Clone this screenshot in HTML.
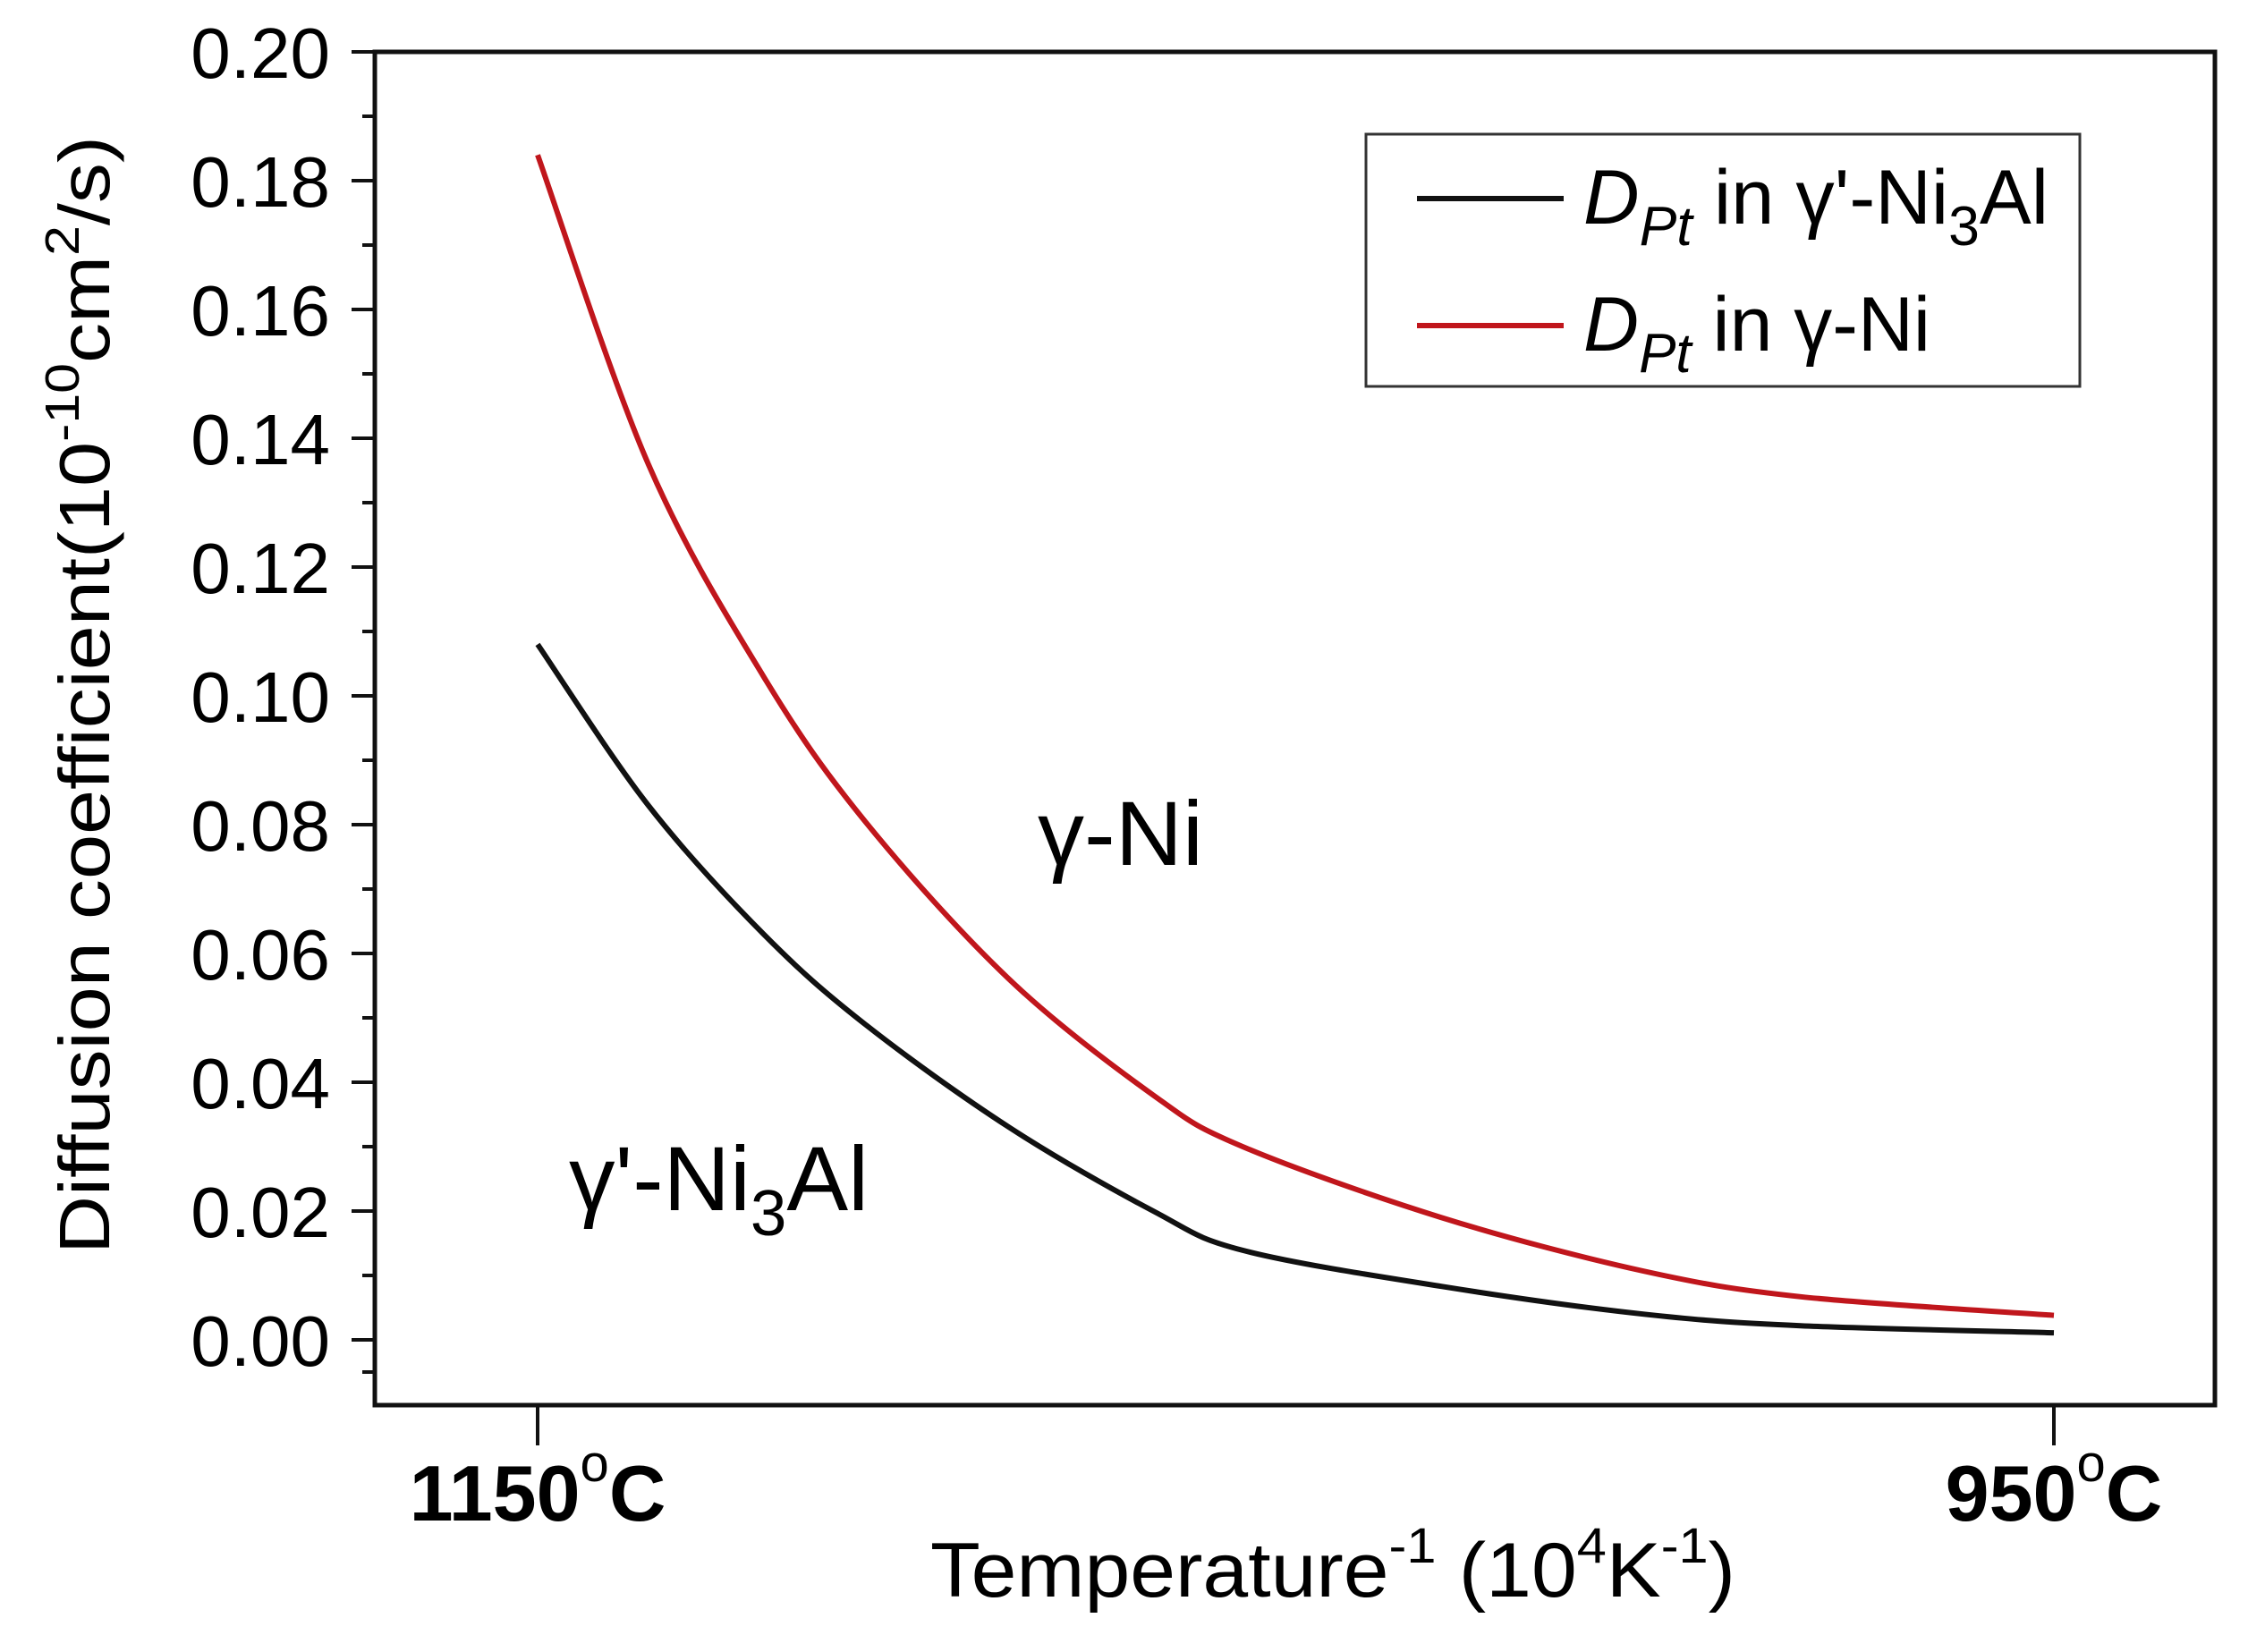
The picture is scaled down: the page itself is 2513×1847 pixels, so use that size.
<!DOCTYPE html>
<html><head><meta charset="utf-8"><style>
html,body{margin:0;padding:0;background:#fff;}
svg{display:block;font-family:"Liberation Sans",Arial,sans-serif;}
</style></head><body>
<svg id="chart" width="2513" height="1847" viewBox="0 0 2513 1847" xmlns="http://www.w3.org/2000/svg">
<g id="axes"></g>
<g id="series"></g>
<g>
<rect x="1527" y="150" width="798" height="282" fill="#fff" stroke="#333" stroke-width="3"/>
<line x1="1584" y1="222" x2="1748" y2="222" stroke="#111" stroke-width="6"/>
<text x="1770" y="250" font-size="86" textLength="520" lengthAdjust="spacingAndGlyphs"><tspan font-style="italic">D</tspan><tspan font-style="italic" font-size="62" dy="24">Pt</tspan><tspan dy="-24"> in γ'-Ni</tspan><tspan font-size="62" dy="24">3</tspan><tspan dy="-24">Al</tspan></text>
<line x1="1584" y1="364" x2="1748" y2="364" stroke="#c0161c" stroke-width="6"/>
<text x="1770" y="392" font-size="86" textLength="388" lengthAdjust="spacingAndGlyphs"><tspan font-style="italic">D</tspan><tspan font-style="italic" font-size="62" dy="24">Pt</tspan><tspan dy="-24"> in γ-Ni</tspan></text>
</g>
<text x="1160" y="967" font-size="102" textLength="185" lengthAdjust="spacingAndGlyphs">γ-Ni</text>
<text x="636" y="1353" font-size="102" textLength="335" lengthAdjust="spacingAndGlyphs">γ'-Ni<tspan font-size="72" dy="28">3</tspan><tspan dy="-28">Al</tspan></text>
<text transform="translate(122,777) rotate(-90)" text-anchor="middle" font-size="80" textLength="1250" lengthAdjust="spacingAndGlyphs">Diffusion coefficient(10<tspan font-size="54" dy="-34">-10</tspan><tspan dy="34">cm</tspan><tspan font-size="54" dy="-34">2</tspan><tspan dy="34">/s)</tspan></text>
<text x="1490" y="1785" text-anchor="middle" font-size="86" textLength="900" lengthAdjust="spacingAndGlyphs">Temperature<tspan font-size="56" dy="-38">-1</tspan><tspan dy="38"> (10</tspan><tspan font-size="56" dy="-38">4</tspan><tspan dy="38">K</tspan><tspan font-size="56" dy="-38">-1</tspan><tspan dy="38">)</tspan></text>
</svg>
<script>
const yTicks = [0.00,0.02,0.04,0.06,0.08,0.10,0.12,0.14,0.16,0.18,0.20];
const yTickLabels = ["0.00","0.02","0.04","0.06","0.08","0.10","0.12","0.14","0.16","0.18","0.20"];
const xTicks = [0, 1];
const xTickLabels = ["1150", "950"];
const xPos = [0, 0.073, 0.149, 0.216, 0.311, 0.406, 0.465, 0.596, 0.729, 0.833, 1];
const niValues = [0.184, 0.136, 0.103, 0.0805, 0.056, 0.038, 0.030, 0.019, 0.0107, 0.0067, 0.0038];
const ni3alValues = [0.108, 0.083, 0.063, 0.049, 0.0330, 0.0200, 0.0139, 0.0083, 0.004, 0.0022, 0.0011];

const NS = "http://www.w3.org/2000/svg";
const L = 419, R = 2476, T = 58, B = 1571;
const X0 = 601, X1 = 2296;
function xs(v){ return X0 + v*(X1-X0); }
function ys(v){ return 1498 - v*(1498-58)/0.20; }
function mk(tag, attrs, parent){
  const e = document.createElementNS(NS, tag);
  for (const k in attrs) e.setAttribute(k, attrs[k]);
  parent.appendChild(e); return e;
}
const axes = document.getElementById('axes');
const frame = mk('rect', {x:L, y:T, width:R-L, height:B-T, fill:'none', stroke:'#111', 'stroke-width':5}, axes);


yTicks.forEach((v,i)=>{
  const y = ys(v);
  const t = mk('line', {x1:L-26, y1:y, x2:L, y2:y, stroke:'#111', 'stroke-width':4}, axes);
  
  
  if (i < yTicks.length-1) {
    const ym = ys((v + yTicks[i+1])/2);
    const m = mk('line', {x1:L-14, y1:ym, x2:L, y2:ym, stroke:'#111', 'stroke-width':4}, axes);
    
    
  }
  const lb = mk('text', {x:L-50, y:y+29, 'text-anchor':'end', 'font-size':80}, axes);
  lb.textContent = yTickLabels[i];
  
  
});
const ym = ys(-0.005);
const mlow = mk('line', {x1:L-14, y1:ym, x2:L, y2:ym, stroke:'#111', 'stroke-width':4}, axes);


xTicks.forEach((v,i)=>{
  const x = xs(v);
  const t = mk('line', {x1:x, y1:B, x2:x, y2:B+45, stroke:'#111', 'stroke-width':4}, axes);
  
  
  const lb = mk('text', {x:x, y:1700, 'text-anchor':'middle', 'font-size':88, 'font-weight':'bold'}, axes);
  
  
  lb.appendChild(document.createTextNode(xTickLabels[i]));
  const s = document.createElementNS(NS, 'tspan');
  s.setAttribute('font-size', '58'); s.setAttribute('dy', '-44'); s.setAttribute('font-weight','normal');
  s.textContent = 'o'; lb.appendChild(s);
  const c = document.createElementNS(NS, 'tspan');
  c.setAttribute('dy', '44'); c.textContent = 'C'; lb.appendChild(c);
});
const series = document.getElementById('series');
function path(vals, color, name){
  const pts = vals.map((v,i)=>[xs(xPos[i]), ys(v)]);
  let d = 'M' + pts[0][0].toFixed(1) + ',' + pts[0][1].toFixed(1);
  for (let i=0;i<pts.length-1;i++){
    const p0 = pts[Math.max(0,i-1)], p1 = pts[i], p2 = pts[i+1], p3 = pts[Math.min(pts.length-1,i+2)];
    const c1 = [p1[0]+(p2[0]-p0[0])/6, p1[1]+(p2[1]-p0[1])/6];
    const c2 = [p2[0]-(p3[0]-p1[0])/6, p2[1]-(p3[1]-p1[1])/6];
    d += 'C'+c1[0].toFixed(1)+','+c1[1].toFixed(1)+' '+c2[0].toFixed(1)+','+c2[1].toFixed(1)+' '+p2[0].toFixed(1)+','+p2[1].toFixed(1);
  }
  const p = mk('path', {d:d, fill:'none', stroke:color, 'stroke-width':6, 'stroke-linejoin':'round'}, series);
  
  
}
path(ni3alValues, '#111', 'line-ni3al');
path(niValues, '#c0161c', 'line-ni');
</script>
</body></html>
